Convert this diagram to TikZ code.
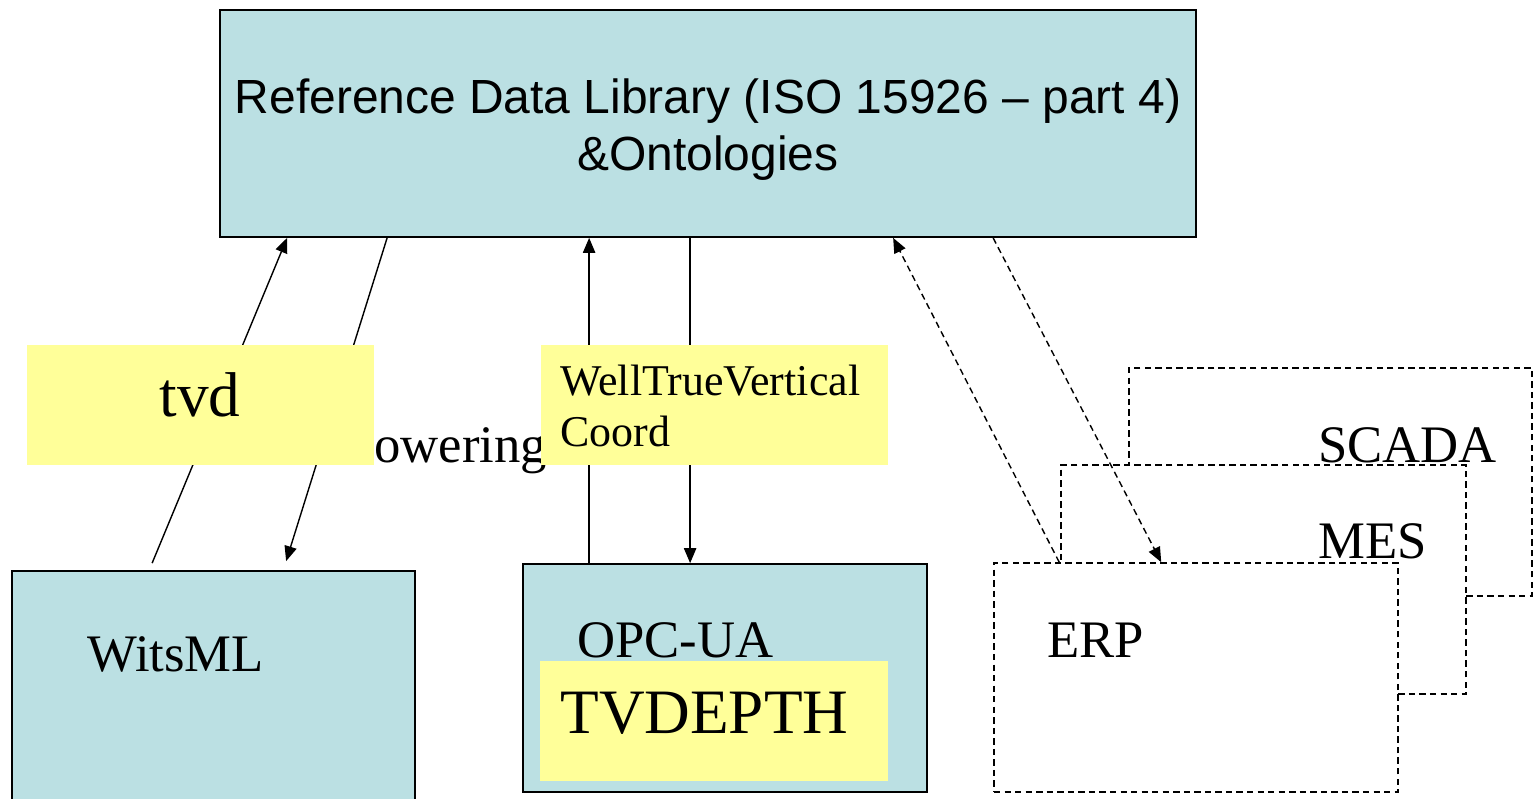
\documentclass[tikz,border=0pt]{standalone}
\usepackage{fontspec}
\setmainfont{Liberation Serif}
\newfontfamily\arialfont{Liberation Sans}
\usetikzlibrary{arrows.meta,fit,calc}
\definecolor{boxblue}{HTML}{BBE0E3}
\definecolor{noteyellow}{HTML}{FFFF99}
\begin{document}
\begin{tikzpicture}[x=0.02cm,y=-0.02cm,
  sysbox/.style={draw=black, line width=1pt, fill=boxblue, inner sep=0pt},
  notebox/.style={fill=noteyellow, inner sep=0pt},
  extbox/.style={draw=black, line width=0.9pt, fill=white, dash pattern=on 3.6pt off 2.4pt, inner sep=0pt},
  arr/.style={line width=0.8pt, -{Triangle[length=8.5pt,width=7pt]}},
  darr/.style={arr, dash pattern=on 3.6pt off 2.4pt},
  lbl/.style={inner sep=0pt, anchor=base west, font=\fontsize{30}{36}\selectfont},
  biglbl/.style={inner sep=0pt, font=\fontsize{36}{43}\selectfont},
  smalllbl/.style={inner sep=0pt, anchor=base west, font=\fontsize{25}{30}\selectfont},
  sanslbl/.style={inner sep=0pt, anchor=base, font=\arialfont\fontsize{27.3}{33}\selectfont},
]
\useasboundingbox (0,0) rectangle (1537,798);

% external systems, stacked back to front
\node[extbox, fit={(1129,368) (1532,596)}] (scada) {};
\node[lbl] (scadatxt) at (1318,462) {SCADA};
\node[extbox, fit={(1061,465) (1466,694)}] (mes) {};
\node[lbl] (mestxt) at (1318,558) {MES};
\node[extbox, fit={(994,563) (1398,792)}] (erp) {};
\node[lbl] (erptxt) at (1047,657) {ERP};

% reference data library
\node[sysbox, fit={(220,10) (1196,237)}] (rdl) {};
\node[sanslbl] (rdltxta) at (708,113) {Reference Data Library (ISO 15926 – part 4)};
\node[sanslbl] (rdltxtb) at (708,170) {\&Ontologies};

% standards
\node[sysbox, fit={(12,571) (415,815)}] (wits) {};
\node[lbl] (witstxt) at (87,671) {WitsML};
\node[sysbox, fit={(523,564) (927,792)}] (opc) {};
\node[lbl] (opctxt) at (577,657) {OPC-UA};

\node[lbl] (ow) at (374,462) {owering};

% mappings
\draw[arr] ($(wits.north west)+(141,-7)$) -- ($(rdl.south west)+(68,0)$);
\draw[arr] ($(rdl.south west)+(168,0)$) -- ($(wits.north west)+(275,-9)$);
\draw[arr] ($(opc.north west)+(67,0)$) -- ($(rdl.south west)+(370,0)$);
\draw[arr] ($(rdl.south west)+(471,0)$) -- ($(opc.north west)+(168,0)$);
\draw[darr] ($(erp.north west)+(66,0)$) -- ($(rdl.south west)+(674,0)$);
\draw[darr] ($(rdl.south west)+(774,0)$) -- ($(erp.north west)+(168,0)$);

% term notes
\node[notebox, fit={(27,345) (374,465)}] (tvd) {};
\node[biglbl, anchor=base] (tvdtxt) at (200,416) {tvd};
\node[notebox, fit={(541,345) (888,465)}] (wtvc) {};
\node[smalllbl] (wtvctxta) at (560,395) {WellTrueVertical};
\node[smalllbl] (wtvctxtb) at (560,446) {Coord};
\node[notebox, fit={(540,661) (888,781)}] (tvdepth) {};
\node[biglbl, anchor=base west] (tvdepthtxt) at (560,733) {TVDEPTH};
\end{tikzpicture}
\end{document}
